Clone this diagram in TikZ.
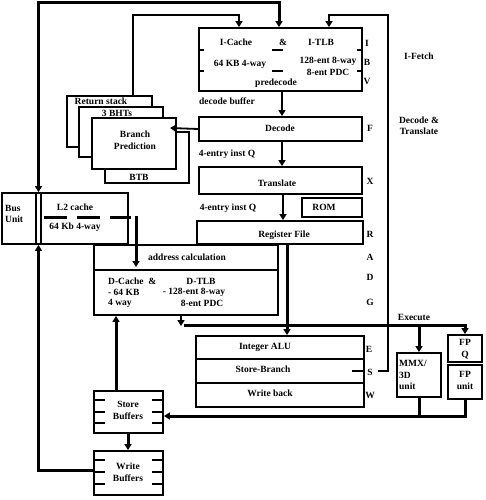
\documentclass[tikz,border=0pt]{standalone}
\usepackage{fontspec}
\setmainfont{Liberation Serif}
\usetikzlibrary{fit,arrows.meta}
\begin{document}
\begin{tikzpicture}[x=1pt,y=-1pt,
  box/.style={draw,line width=1.8pt,inner sep=0pt,fill=white},
  txt/.style={font=\bfseries\fontsize{9.5}{10}\selectfont,inner sep=0pt},
  ln/.style={line width=1.8pt},
  fat/.style={line width=3pt},
  tp/.style={-{Triangle[length=6pt,width=7pt]}},
  tpb/.style={{Triangle[length=6pt,width=7pt]}-{Triangle[length=6pt,width=7pt]}}
]
\useasboundingbox (0,0) rectangle (486,500);

% ---------- boxes ----------
\node[box,fit={(199,28)(362,91)}] (icache) {};
\node[box,fit={(199,117)(362,141)}] (decode) {};
\node[box,fit={(199,167)(362,194)}] (translate) {};
\node[box,fit={(302,198)(362,217)}] (rom) {};
\node[box,fit={(197,221)(363,244)}] (regfile) {};
\node[box,fit={(94,245)(278,270)}] (addr) {};
\node[box,fit={(94,270)(278,315)}] (dcache) {};
\node[box,fit={(67,96)(152,147)}] (rs) {};
\node[box,fit={(79,107)(163,157)}] (bht) {};
\node[box,fit={(105,132)(189,183)}] (btb) {};
\node[box,fit={(92,118)(176,169)}] (bp) {};
\node[box,fit={(2,193)(128,244)}] (bus) {};
\node[box,fit={(196,336)(364,359)}] (alu) {};
\node[box,fit={(196,359)(364,383)}] (sb) {};
\node[box,fit={(196,383)(364,407)}] (wb) {};
\node[box,fit={(397,353)(441,397)}] (mmx) {};
\node[box,fit={(448,335)(482,362)}] (fpq) {};
\node[box,fit={(448,365)(482,399)}] (fpu) {};
\node[box,fit={(94,391)(163,433)}] (store) {};
\node[box,fit={(94,451)(163,495)}] (write) {};

% bus unit divider (double line)
\draw[ln] (36,193) -- (36,244);
\draw[ln] (41,193) -- (41,244);

% I-cache internal marks
\draw[ln] (199,50) -- (204,50);
\draw[ln] (199,71) -- (204,71);
\draw[ln] (357,50) -- (362,50);
\draw[ln] (357,71) -- (362,71);
\draw[ln] (272,50) -- (283,50);
\draw[ln] (272,71) -- (283,71);

% buffer ticks
\foreach \yy in {400,412,423} {
  \draw[ln] (94,\yy) -- (105,\yy);
  \draw[ln] (152,\yy) -- (163,\yy);
}
\foreach \yy in {460,472,484} {
  \draw[ln] (94,\yy) -- (105,\yy);
  \draw[ln] (152,\yy) -- (163,\yy);
}

% ---------- texts ----------
\node[txt] (tIC) at (236,42) {I-Cache};
\node[txt] (tAmp) at (283,42) {\&};
\node[txt] (tIT) at (321,42) {I-TLB};
\node[txt] (tIC2) at (240,64) {64 KB 4-way};
\node[txt] (tIT2) at (328,61) {128-ent 8-way};
\node[txt] (tIT3) at (328,72) {8-ent PDC};
\node[txt] (tPre) at (276,83) {predecode};
\node[txt] (tI) at (367,43) {I};
\node[txt] (tB) at (367,62) {B};
\node[txt] (tV) at (367,81) {V};
\node[txt] (tDB) at (227,101) {decode buffer};
\node[txt] (tDec) at (280,128) {Decode};
\node[txt] (tF) at (370,128) {F};
\node[txt] (tQ1) at (227,154) {4-entry inst Q};
\node[txt] (tTr) at (277,183) {Translate};
\node[txt] (tX) at (370,181) {X};
\node[txt] (tQ2) at (228,208) {4-entry inst Q};
\node[txt] (tROM) at (324,207) {ROM};
\node[txt] (tRF) at (284,235) {Register File};
\node[txt] (tR) at (370,234) {R};
\node[txt] (tAC) at (187,257) {address calculation};
\node[txt,anchor=west] (tD1) at (108,281) {D-Cache\ \ \&};
\node[txt,anchor=west] (tD2) at (108,292) {- 64 KB};
\node[txt,anchor=west] (tD3) at (108,303) {4 way};
\node[txt] (tDT1) at (201,281) {D-TLB};
\node[txt] (tDT2) at (194,292) {- 128-ent 8-way};
\node[txt] (tDT3) at (202,303) {8-ent PDC};
\node[txt] (tA) at (370,257) {A};
\node[txt] (tD) at (370,277) {D};
\node[txt] (tG) at (370,302) {G};
\node[txt] (tRS) at (101,101) {Return stack};
\node[txt] (tBHT) at (117,113) {3 BHTs};
\node[txt] (tBP1) at (135,134) {Branch};
\node[txt] (tBP2) at (135,146) {Prediction};
\node[txt] (tBTB) at (139,177) {BTB};
\node[txt,anchor=west] (tBus1) at (5,208) {Bus};
\node[txt,anchor=west] (tBus2) at (5,219) {Unit};
\node[txt] (tL2a) at (75,207) {L2 cache};
\node[txt] (tL2b) at (75,227) {64 Kb 4-way};
\node[txt] (tIF) at (419,56) {I-Fetch};
\node[txt] (tDT) at (419,120) {Decode \&};
\node[txt] (tDT4) at (419,131) {Translate};
\node[txt] (tEx) at (414,317) {Execute};
\node[txt] (tALU) at (265,347) {Integer ALU};
\node[txt] (tSB) at (263,369) {Store-Branch};
\node[txt] (tWB) at (270,393) {Write back};
\node[txt] (tE) at (369,349) {E};
\node[txt] (tS) at (370,372) {S};
\node[txt] (tW) at (370,395) {W};
\node[txt,anchor=west] (tM1) at (399,363) {MMX/};
\node[txt,anchor=west] (tM2) at (399,375) {3D};
\node[txt,anchor=west] (tM3) at (399,386) {unit};
\node[txt] (tFQ1) at (465,342) {FP};
\node[txt] (tFQ2) at (465,355) {Q};
\node[txt] (tFU1) at (465,374) {FP};
\node[txt] (tFU2) at (465,386) {unit};
\node[txt] (tSt1) at (128,404) {Store};
\node[txt] (tSt2) at (128,416) {Buffers};
\node[txt] (tWr1) at (128,466) {Write};
\node[txt] (tWr2) at (128,478) {Buffers};

% ---------- coordinates ----------
\coordinate (cBusX) at (38.5,0);
\coordinate (cTop) at (0,3);
\coordinate (cIx) at (279,0);
\coordinate (cWy) at (0,470);
\coordinate (cRx) at (133,0);
\coordinate (cT2) at (0,15);
\coordinate (cIx2) at (239,0);
\coordinate (cS1) at (378,371);
\coordinate (cS2) at (352,371);
\coordinate (cVx) at (388,0);
\coordinate (cIx3) at (329,0);
\coordinate (cCx) at (282,0);
\coordinate (cTx) at (283,0);
\coordinate (cBPin) at (170,128);
\coordinate (cD1) at (44,217);
\coordinate (cD2) at (131,217);
\coordinate (cD3) at (136,215.5);
\coordinate (cAddrIn) at (136,267);
\coordinate (cRFx) at (287,0);
\coordinate (cDx) at (181,0);
\coordinate (cBusY) at (0,326);
\coordinate (cBusStart) at (184,325);
\coordinate (cFPx) at (465,0);
\coordinate (cMx) at (419,0);
\coordinate (cBot) at (0,416);
\coordinate (cSx) at (116,0);
\coordinate (cSx2) at (128,0);

% ---------- connectors ----------
\draw[fat,tpb] (bus.north -| cBusX) -- (cBusX |- cTop) -| (icache.north -| cIx);
\draw[fat,tp] (write.west |- cWy) -| (bus.south -| cBusX);
\draw[ln,tp] (rs.north -| cRx) -- (cRx |- cT2) -| (icache.north -| cIx2);
\draw[ln,tp] (cS1) -- (cS1 -| cVx) -- (cVx |- cT2) -| (icache.north -| cIx3);
\draw[ln] (cS2) -- (sb.east);
\draw[ln,tp] (icache.south -| cCx) -- (decode.north -| cCx);
\draw[ln,tp] (decode.south -| cCx) -- (translate.north -| cCx);
\draw[ln,tp] (translate.south -| cTx) -- (regfile.north -| cTx);
\draw[ln,tp] (decode.west) -- (cBPin);
\draw[fat,dash pattern=on 23pt off 10pt] (cD1) -- (cD2);
\draw[fat,tp] (cD3) -- (cAddrIn);
\draw[fat,tp] (regfile.south -| cRFx) -- (alu.north -| cRFx);
\draw[ln,tp] (dcache.south -| cDx) -- (cDx |- cBusY);
\draw[fat,tp] (cBusStart) -- (cBusStart -| cFPx) -- (fpq.north -| cFPx);
\draw[fat,tp] (cBusStart -| cMx) -- (mmx.north -| cMx);
\draw[fat] (mmx.south -| cMx) -- (cMx |- cBot);
\draw[fat,tp] (fpu.south -| cFPx) -- (cFPx |- cBot) -- (store.east |- cBot);
\draw[fat,tp] (store.north -| cSx) -- (dcache.south -| cSx);
\draw[fat,tp] (store.south -| cSx2) -- (write.north -| cSx2);
\end{tikzpicture}
\end{document}
